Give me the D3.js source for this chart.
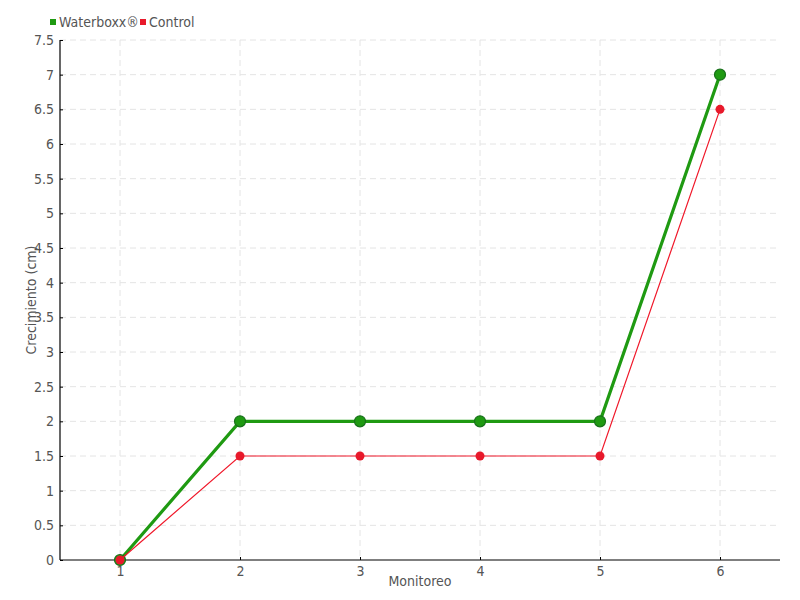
<!DOCTYPE html>
<html><head><meta charset="utf-8">
<script src="https://cdn.jsdelivr.net/npm/d3@7"></script>
<style>
body{margin:0;background:#fff;}
text{font-family:"Liberation Sans Narrow","DejaVu Sans Condensed","Roboto",sans-serif;fill:#555;}
</style></head><body>
<svg id="c" width="800" height="600"></svg>
<script>
const categories = [1, 2, 3, 4, 5, 6];
const waterboxx = [0, 2, 2, 2, 2, 7];
const control = [0, 1.5, 1.5, 1.5, 1.5, 6.5];
const yTicks = [0,0.5,1,1.5,2,2.5,3,3.5,4,4.5,5,5.5,6,6.5,7,7.5];
const seriesNames = ["Waterboxx®", "Control"];

const svg = d3.select("#c");
const x = d3.scaleLinear().domain([0.5, 6.5]).range([60, 780]);
const y = d3.scaleLinear().domain([0, 7.5]).range([560, 40]);

// grid
svg.append("g").selectAll("line.h").data(yTicks.filter(d=>d>0)).join("line")
  .attr("x1",60).attr("x2",780).attr("y1",d=>y(d)).attr("y2",d=>y(d))
  .attr("stroke","#e4e4e4").attr("stroke-dasharray","6,4");
svg.append("g").selectAll("line.v").data(categories).join("line")
  .attr("x1",d=>x(d)).attr("x2",d=>x(d)).attr("y1",40).attr("y2",560)
  .attr("stroke","#e4e4e4").attr("stroke-dasharray","6,4");

// axes
const yAxis = svg.append("g").attr("transform","translate(60,0)")
  .call(d3.axisLeft(y).tickValues(yTicks).tickFormat(d=>String(d)).tickSize(-3).tickPadding(6));
const xAxis = svg.append("g").attr("transform","translate(0,560)")
  .call(d3.axisBottom(x).tickValues(categories).tickFormat(d=>String(d)).tickSize(-3).tickPadding(6));
[yAxis,xAxis].forEach(a=>{
  a.select(".domain").attr("stroke","#000").attr("stroke-width",1.2);
  a.selectAll(".tick line").attr("stroke","#000");
  a.selectAll(".tick text").attr("fill","#555").style("font-size","14px");
});
xAxis.select(".domain").attr("d","M60,0H780");
yAxis.select(".domain").attr("d","M0,40V560");

svg.append("text").attr("x",420).attr("y",586).attr("text-anchor","middle")
  .style("font-size","14px").text("Monitoreo");
svg.append("text").attr("transform","translate(36,300) rotate(-90)").attr("text-anchor","middle")
  .style("font-size","14px").text("Crecimiento (cm)");

// lines
const line = d3.line().x((d,i)=>x(categories[i])).y(d=>y(d));
svg.append("path").datum(waterboxx).attr("d",line).attr("fill","none")
  .attr("stroke","#1f9a12").attr("stroke-width",3.2);
svg.append("g").selectAll("circle").data(waterboxx).join("circle")
  .attr("cx",(d,i)=>x(categories[i])).attr("cy",d=>y(d)).attr("r",5.5)
  .attr("fill","#1f9a12").attr("stroke","#17701a").attr("stroke-width",1.2);
svg.append("path").datum(control).attr("d",line).attr("fill","none")
  .attr("stroke","#f0182a").attr("stroke-width",1.2);
svg.append("g").selectAll("circle").data(control).join("circle")
  .attr("cx",(d,i)=>x(categories[i])).attr("cy",d=>y(d)).attr("r",4.5)
  .attr("fill","#e8192b");

// legend
const lg = svg.append("g");
const colors = ["#1f9a12","#e8192b"];
const lx = [50,140];
seriesNames.forEach((n,i)=>{
  lg.append("rect").attr("x",lx[i]).attr("y",19).attr("width",6).attr("height",6).attr("fill",colors[i]);
  lg.append("text").attr("x",lx[i]+9).attr("y",27).style("font-size","14px").text(n);
});
</script></body></html>
